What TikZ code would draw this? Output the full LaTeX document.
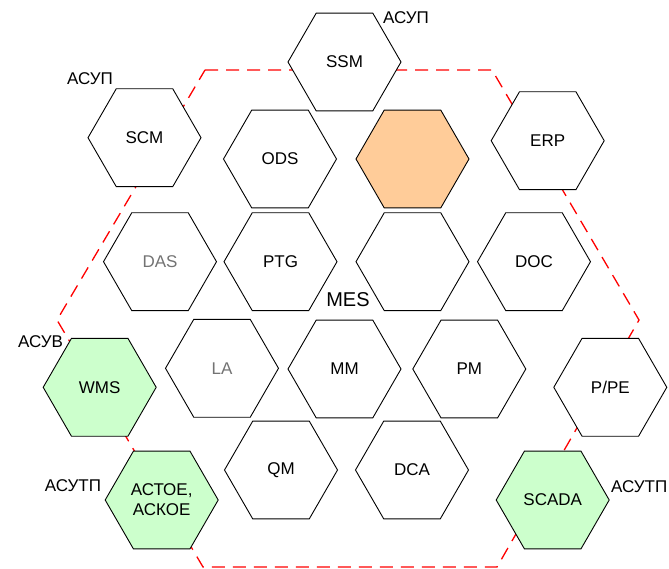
\documentclass[tikz,border=0pt]{standalone}
\usepackage{fontspec}
\setmainfont{Liberation Sans}
\usetikzlibrary{shapes.geometric}
\definecolor{hexgreen}{HTML}{CCFFCC}
\definecolor{hexorange}{HTML}{FFCC99}
\tikzset{
  hexbox/.style={regular polygon, regular polygon sides=6, minimum size=113pt,
    inner sep=0pt, draw=black, line width=0.9pt, fill=white, font=\fontsize{17}{20}\selectfont,
    align=center},
  greenhex/.style={hexbox, fill=hexgreen},
  orangehex/.style={hexbox, fill=hexorange},
  levellabel/.style={font=\fontsize{17}{20}\selectfont, inner sep=0pt},
  border/.style={draw=red, line width=1.3pt, dash pattern=on 13pt off 8pt}
}
\begin{document}
\begin{tikzpicture}[x=1pt,y=-1pt]
\useasboundingbox (0,0) rectangle (669,569);
% dashed MES border
\coordinate (b1) at (205,70);
\coordinate (b2) at (492,70);
\coordinate (b3) at (639,320);
\coordinate (b4) at (497,567);
\coordinate (b5) at (203,567);
\coordinate (b6) at (57,320);
\draw[border] (b1) -- (b2) -- (b3) -- (b4) -- (b5) -- (b6) -- cycle;
% hexagons
\node[hexbox] (ssm) at (344.5,62) {SSM};
\node[hexbox] (scm) at (144.5,137.7) {SCM};
\node[hexbox] (ods) at (280,159) {ODS};
\node[orangehex] (orange) at (412.5,159) {};
\node[hexbox] (erp) at (547.7,140.7) {ERP};
\node[hexbox] (das) at (160,261.7) {\textcolor{black!55}{DAS}};
\node[hexbox] (ptg) at (280.5,261.7) {PTG};
\node[hexbox] (empty) at (412.5,261.7) {};
\node[hexbox] (doc) at (534,261.7) {DOC};
\node[hexbox] (la) at (222,368.3) {\textcolor{black!55}{LA}};
\node[hexbox] (mm) at (344.5,369) {MM};
\node[hexbox] (pm) at (469.3,369) {PM};
\node[greenhex] (wms) at (99.7,387.3) {WMS};
\node[hexbox] (ppe) at (610.3,387.3) {P/PE};
\node[hexbox] (qm) at (281,470) {QM};
\node[hexbox] (dca) at (412,470) {DCA};
\node[greenhex] (astoe) at (161.7,500) {АСТОЕ,\\АСКОЕ};
\node[greenhex] (scada) at (552.7,500) {SCADA};
% labels
\node[font=\fontsize{20}{24}\selectfont, inner sep=0pt] (mes) at (348,300) {MES};
\node[levellabel] (l1) at (406,18) {АСУП};
\node[levellabel] (l2) at (90,79) {АСУП};
\node[levellabel] (l3) at (40.5,342) {АСУВ};
\node[levellabel] (l4) at (73,486) {АСУТП};
\node[levellabel, anchor=west] (l5) at (611,487) {АСУТП};
\end{tikzpicture}
\end{document}
